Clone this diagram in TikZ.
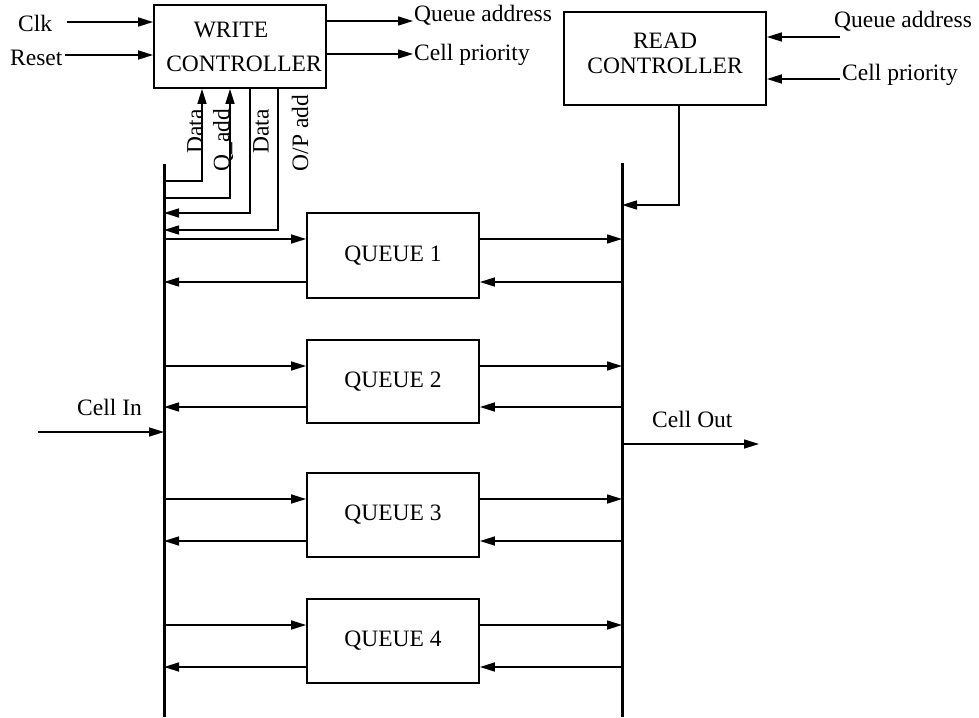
\documentclass[tikz,border=0pt]{standalone}
\usepackage{fontspec}
\setmainfont{Liberation Serif}
\usetikzlibrary{arrows.meta,calc}
\begin{document}
\begin{tikzpicture}[x=1pt,y=-1pt,
  txt/.style={font=\fontsize{23.5}{28}\selectfont, inner sep=0pt},
  box/.style={draw, line width=1.8pt, inner sep=0pt, align=center},
  arr/.style={line width=1.6pt, -{Triangle[length=15pt,width=9pt]}},
  bus/.style={line width=3pt},
]
\useasboundingbox (0,0) rectangle (979,717);

% controllers
\node[box, minimum width=172pt, minimum height=83pt,
      font=\fontsize{23.5}{34}\selectfont] (wc) at (240,46.5) {WRITE\kern18pt\\\kern8pt CONTROLLER};
\node[box, minimum width=202pt, minimum height=93pt,
      font=\fontsize{23.5}{25}\selectfont] (rd) at (665,58.5) {READ\\CONTROLLER\rule[-11pt]{0pt}{11pt}};

% queues
\node[box, minimum width=172pt, minimum height=85pt, font=\fontsize{23.5}{28}\selectfont] (q1) at (393,255.5) {QUEUE 1};
\node[box, minimum width=172pt, minimum height=83pt, font=\fontsize{23.5}{28}\selectfont] (q2) at (393,381.5) {QUEUE 2};
\node[box, minimum width=172pt, minimum height=84pt, font=\fontsize{23.5}{28}\selectfont] (q3) at (393,515) {QUEUE 3};
\node[box, minimum width=172pt, minimum height=84pt, font=\fontsize{23.5}{28}\selectfont] (q4) at (393,641) {QUEUE 4};

% buses
\coordinate (lbt) at (164,164);
\coordinate (lbb) at (164,717);
\coordinate (rbt) at (622,163);
\coordinate (rbb) at (622,717);
\draw[bus] (lbt) -- (lbb);
\draw[bus] (rbt) -- (rbb);

% texts
\node[txt, anchor=base west] (clk) at (18,32) {Clk};
\node[txt, anchor=base west] (rst) at (10,65) {Reset};
\node[txt, anchor=base west] (qaw) at (414,22) {Queue address};
\node[txt, anchor=base west] (cpw) at (414,60) {Cell priority};
\node[txt, anchor=base west] (qar) at (834,28) {Queue address};
\node[txt, anchor=base west] (cpr) at (842,81) {Cell priority};
\node[txt, anchor=base west] (cin) at (77,415) {Cell In};
\node[txt, anchor=base west] (cout) at (652,427) {Cell Out};

\node[txt, rotate=90] (ld1) at (195,131.5) {Data};
\node[txt, rotate=90] (lqa) at (223,140) {Q\_add};
\node[txt, rotate=90] (ld2) at (261,131.5) {Data};
\node[txt, rotate=90] (lop) at (300,133) {O/P add};

% write controller inputs / outputs
\coordinate (clks) at (67,22);
\coordinate (rsts) at (65,55);
\draw[arr] (clks) -- (clks -| wc.west);
\draw[arr] (rsts) -- (rsts -| wc.west);
\coordinate (qae) at (413,21);
\coordinate (cpe) at (413,54);
\draw[arr] (qae -| wc.east) -- (qae);
\draw[arr] (cpe -| wc.east) -- (cpe);

% read controller inputs
\coordinate (rqa) at (840,37);
\coordinate (rcp) at (840,79);
\draw[arr] (rqa) -- (rqa -| rd.east);
\draw[arr] (rcp) -- (rcp -| rd.east);

% write controller <-> left bus
\coordinate (d1) at (202,181);
\coordinate (qa) at (230,198);
\coordinate (d2) at (250,213);
\coordinate (op) at (278,230);
\draw[arr] (d1 -| lbt) -- (d1) -- (d1 |- wc.south);
\draw[arr] (qa -| lbt) -- (qa) -- (qa |- wc.south);
\draw[arr] (d2 |- wc.south) -- (d2) -- (d2 -| lbt);
\draw[arr] (op |- wc.south) -- (op) -- (op -| lbt);

% read controller -> right bus
\coordinate (rl) at (679,205);
\draw[arr] (rl |- rd.south) -- (rl) -- (rl -| rbt);

% queues <-> buses
\foreach \n/\yi/\yo in {1/239/282, 2/366/407, 3/499/541, 4/625/667} {
  \coordinate (q\n i) at (393,\yi);
  \coordinate (q\n o) at (393,\yo);
  \draw[arr] (q\n i -| lbt) -- (q\n i -| q\n.west);
  \draw[arr] (q\n o -| q\n.west) -- (q\n o -| lbt);
  \draw[arr] (q\n i -| q\n.east) -- (q\n i -| rbt);
  \draw[arr] (q\n o -| rbt) -- (q\n o -| q\n.east);
}

% cell in / out
\coordinate (cins) at (38,432);
\coordinate (coute) at (759,444);
\draw[arr] (cins) -- (cins -| lbt);
\draw[arr] (coute -| rbt) -- (coute);
\end{tikzpicture}
\end{document}
